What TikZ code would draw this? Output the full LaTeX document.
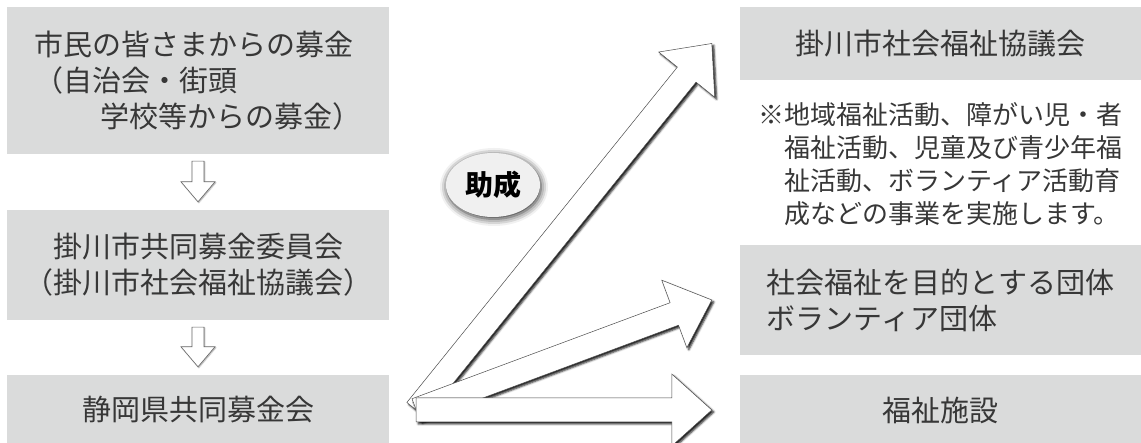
\documentclass[tikz,border=0pt]{standalone}
\usepackage{fontspec}
\setmainfont{Noto Sans CJK JP}
\usetikzlibrary{calc, shapes.geometric, shadows.blur}
\definecolor{boxgray}{RGB}{218,219,219}
\definecolor{txtgray}{RGB}{55,55,55}

\begin{document}
\begin{tikzpicture}[x=1pt, y=1pt,
    box/.style={fill=boxgray, inner sep=0pt, text=txtgray, font=\fontsize{29pt}{36pt}\selectfont},
    smallarr/.style={fill=white, draw=black!60, line width=0.6pt, blur shadow={shadow xshift=0.8pt, shadow yshift=-0.8pt, shadow blur radius=1.2pt, shadow opacity=40}},
    bigarr/.style={fill=white, draw=black!70, line width=0.5pt, line join=miter, blur shadow={shadow xshift=2pt, shadow yshift=-2pt, shadow blur radius=2pt, shadow opacity=90}}]
\useasboundingbox (0,0) rectangle (1141,443);
\clip (0,0) rectangle (1141,443);

\node[box, minimum width=382pt, minimum height=147pt, align=left] (L1) at (198,362.5) {市民の皆さまからの募金\\（自治会・街頭\\\hspace*{2.25em}学校等からの募金）};
\node[box, minimum width=382pt, minimum height=110pt, align=center] (L2) at (198,178) {掛川市共同募金委員会\\（掛川市社会福祉協議会）};
\node[box, minimum width=382pt, minimum height=70pt] (L3) at (198,33) {静岡県共同募金会};

\node[box, minimum width=401pt, minimum height=73pt] (R1) at (940.5,399.5) {掛川市社会福祉協議会};
\node[box, minimum width=401pt, minimum height=110pt, align=left] (R2) at (940.5,143) {社会福祉を目的とする団体\\ボランティア団体};
\node[box, minimum width=401pt, minimum height=70pt] (R3) at (940.5,33) {福祉施設};

\node[text=txtgray, font=\fontsize{26pt}{33pt}\selectfont, align=left, anchor=west, inner sep=0pt] (note) at (758,279) {※地域福祉活動、障がい児・者\\\hspace*{1em}福祉活動、児童及び青少年福\\\hspace*{1em}祉活動、ボランティア活動育\\\hspace*{1em}成などの事業を実施します。};

\foreach \a/\b in {L1/L2, L2/L3} {
  \coordinate (dt) at ($(\a.south)+(0,-7)$);
  \coordinate (db) at ($(\b.north)+(0,8)$);
  \draw[smallarr] ($(dt)+(-6,0)$) -- ($(db)+(-6,20)$) -- ($(db)+(-17,20)$) -- (db) -- ($(db)+(17,20)$) -- ($(db)+(6,20)$) -- ($(dt)+(6,0)$) -- cycle;
}

\coordinate (src) at ($(L3.east)+(27,0)$);
\foreach \t in {R1,R2,R3} {
  \coordinate (tip) at ($(\t.west)+(-28,0)$);
  \coordinate (hb) at ($(tip)!40pt!(src)$);
  \draw[bigarr] ($(src)!12pt!-90:(tip)$) -- ($(hb)!12pt!90:(src)$) -- ($(hb)!36pt!90:(src)$) -- (tip) -- ($(hb)!36pt!-90:(src)$) -- ($(hb)!12pt!-90:(src)$) -- ($(src)!12pt!90:(tip)$) -- cycle;
}

\node[ellipse, fill=black!6, minimum width=94pt, minimum height=64pt, inner sep=0pt, font=\fontsize{28pt}{30pt}\selectfont\bfseries, blur shadow={shadow xshift=1pt, shadow yshift=-2pt, shadow blur radius=7pt, shadow opacity=85}] (josei) at (493,258) {助成};
\end{tikzpicture}
\end{document}
